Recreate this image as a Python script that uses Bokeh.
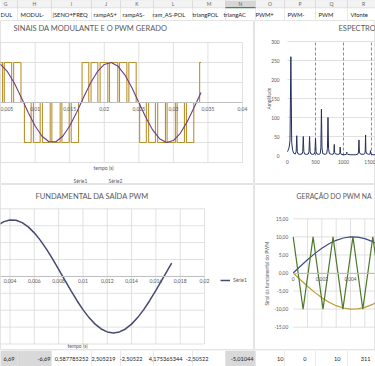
from bokeh.plotting import figure
from bokeh.layouts import column, row
from bokeh.models import (Label, FixedTicker, CustomJSTickFormatter, Range1d,
                          Legend, LegendItem)
from bokeh.embed import file_html
from bokeh.resources import INLINE
from bokeh.core.properties import value

# ---------------- data ----------------
col_letters = ["G", "H", "I", "J", "K", "L", "M", "N", "O", "P", "Q", "R"]
col_headers = ["DUL", "MODUL-", "|SENO+FREQ", "rampAS+", "rampAS-", "ram_AS-POL",
               "triangPOL", "triangAC", "PWM+", "PWM-", "PWM", "Vfonte"]
row_values = ["6,69", "-6,69", "0,587785252", "2,505219", "-2,50522", "4,175365344",
              "-2,50522", "-5,01044", "10", "0", "10", "311"]

# chart 1 : modulating sine and generated PWM
t_mod = [0.000, 0.001, 0.002, 0.003, 0.004, 0.005, 0.006, 0.007, 0.008, 0.009,
         0.010, 0.011, 0.012, 0.013, 0.014, 0.015, 0.016, 0.017, 0.018, 0.019,
         0.020, 0.021, 0.022, 0.023, 0.024, 0.025, 0.026, 0.027, 0.028, 0.029,
         0.030, 0.031, 0.032, 0.033, 0.034]
modulante = [0.000, 0.368, 0.685, 0.905, 0.998, 0.951, 0.771, 0.482, 0.125, -0.249,
             -0.588, -0.844, -0.982, -0.982, -0.844, -0.588, -0.249, 0.125, 0.482, 0.771,
             0.951, 0.998, 0.905, 0.685, 0.368, 0.000, -0.368, -0.685, -0.905, -0.998,
             -0.951, -0.771, -0.482, -0.125, 0.249]
t_pwm = [0.0, 0.00012, 0.00109, 0.00142, 0.00240, 0.00273, 0.00385, 0.00409, 0.00529, 0.00554,
         0.00660, 0.00689, 0.00795,
         0.00845, 0.00942, 0.00975, 0.01073, 0.01106, 0.01218, 0.01242, 0.01362, 0.01387,
         0.01493, 0.01522, 0.01628,
         0.01679, 0.01776, 0.01809, 0.01907, 0.01940, 0.02052, 0.02076, 0.02196, 0.02221,
         0.02327, 0.02356, 0.02462,
         0.02512, 0.02609, 0.02642, 0.02740, 0.02773, 0.02885, 0.02909, 0.03029, 0.03054,
         0.03160, 0.03189, 0.03295,
         0.03380, 0.03400]
pwm = [0, 1, 0, 1, 0, 1, 0, 1, 0, 1, 0, 1, 0,
       -1, 0, -1, 0, -1, 0, -1, 0, -1, 0, -1, 0,
       1, 0, 1, 0, 1, 0, 1, 0, 1, 0, 1, 0,
       -1, 0, -1, 0, -1, 0, -1, 0, -1, 0, -1, 0,
       1, 1]

# chart 2 : spectrum
freq = [0, 15, 30, 45, 60, 75, 90, 110, 140, 155, 165, 175, 190, 220, 260, 272, 282, 292, 305,
        340, 372, 384, 394, 404, 418, 450, 478, 490, 500, 510, 525, 560, 585, 596, 606, 616,
        630, 670, 700, 713, 723, 733, 748, 790, 820, 828, 835, 842, 855, 900, 928, 935, 941,
        947, 960, 1010, 1050, 1054, 1059, 1064, 1075, 1120, 1170, 1220, 1260, 1268, 1276,
        1284, 1300, 1350, 1382, 1388, 1394, 1400, 1412, 1450, 1474, 1478, 1482, 1486, 1495,
        1530, 1580]
amplitude = [10, 15, 22, 40, 260, 35, 15, 6, 4, 10, 52, 10, 4, 3, 4, 10, 50, 10, 4,
             3, 4, 10, 50, 10, 4, 3, 4, 10, 46, 10, 4, 3, 5, 20, 122, 20,
             5, 3, 5, 18, 100, 18, 5, 3, 4, 8, 29, 8, 4, 3, 4, 7, 22,
             7, 3, 2, 3, 5, 9, 5, 3, 2, 2, 2, 4, 9, 41,
             9, 4, 3, 5, 12, 54, 12, 5, 3, 4, 6, 13, 6, 3,
             2, 2]

# chart 3 : fundamental of the PWM output
t_fund = [0.0000, 0.0005, 0.0010, 0.0015, 0.0020, 0.0025, 0.0030, 0.0035, 0.0040, 0.0045,
          0.0050, 0.0055, 0.0060, 0.0065, 0.0070, 0.0075, 0.0080, 0.0085, 0.0090, 0.0095,
          0.0100, 0.0105, 0.0110, 0.0115, 0.0120, 0.0125, 0.0130, 0.0135, 0.0140, 0.0145,
          0.0150, 0.0155, 0.0160, 0.0165, 0.0170, 0.0173]
fundamental = [0.000, 1.254, 2.463, 3.585, 4.579, 5.412, 6.053, 6.480, 6.677, 6.637,
               6.363, 5.862, 5.155, 4.264, 3.223, 2.067, 0.838, -0.420, -1.664, -2.849,
               -3.932, -4.877, -5.648, -6.220, -6.572, -6.690, -6.572, -6.220, -5.648, -4.877,
               -3.932, -2.849, -1.664, -0.420, 0.838, 1.580]

# chart 4 : PWM generation (carrier and references)
t_carrier = [0.0, 0.00069, 0.00139, 0.00208, 0.00278, 0.00347, 0.00417, 0.00486, 0.00556, 0.00625]
carrier = [10, -10, 10, -10, 10, -10, 10, -10, 10, -10]
t_ref = [0.0000, 0.0005, 0.0010, 0.0015, 0.0020, 0.0025, 0.0030, 0.0035, 0.0040, 0.0045,
         0.0050, 0.0055, 0.0060, 0.0065]
ref_pos = [0.000, 1.874, 3.681, 5.358, 6.845, 8.090, 9.048, 9.686, 9.980, 9.921,
           9.511, 8.763, 7.705, 6.374]
ref_neg = [-0.000, -1.874, -3.681, -5.358, -6.845, -8.090, -9.048, -9.686, -9.980, -9.921,
           -9.511, -8.763, -7.705, -6.374]

x1_ticks = [0.005, 0.01, 0.015, 0.02, 0.025, 0.03, 0.035, 0.04]
y1_grid = [-1.5, -1.0, -0.5, 0.0, 0.5, 1.0, 1.5]
x2_ticks = [0, 500, 1000, 1500]
x2_dash = [500, 1000, 1500]
y2_ticks = [0, 50, 100, 150, 200, 250, 300]
x3_ticks = [0.004, 0.006, 0.008, 0.01, 0.012, 0.014, 0.016, 0.018, 0.02]
y3_grid = [-8, -6, -4, -2, 0, 2, 4, 6, 8]
x4_ticks = [0, 0.002, 0.004]
x4_grid = [0.001, 0.002, 0.003, 0.004, 0.005]
y4_ticks = [-15, -10, -5, 0, 5, 10, 15]

# ---------------- style ----------------
FONT = "Lato"
TXT = "#595959"
GRID = "#d9d9d9"
SHEET_LINE = "#e1e1e1"
C_PWM = "#b8922f"
C_SINE = "#6c3d86"
C_NAVY = "#25305e"
C_FUND = "#464a72"
C_GREEN = "#4c7a2a"
C_BLUE = "#3e4c88"
C_GOLD = "#bf9b30"
C_DASH = "#6f5fc8"

col_edges = [-7, 17, 51, 91, 120, 153, 192, 225, 255, 284, 315, 347, 379]
hdr_text_x = [0, 20, 52, 93, 122, 152, 192, 223, 255, 287, 318, 350]
ftr_text_right = [14, 50, 88, 115, 142, 182, 208, 253, 283, 306, 340, 370]


def comma_fmt():
    return CustomJSTickFormatter(code="return String(Math.round(tick*1000)/1000).replace('.', ',');")


def comma2_fmt():
    return CustomJSTickFormatter(code="return tick.toFixed(2).replace('.', ',');")


def make_chart(w, h, area, xlim, ylim, yaxis=None):
    """area = (left, right, top, bottom) of the plot area in canvas pixels."""
    l, r, t, b = area
    x0, x1 = xlim
    y0, y1 = ylim
    kx = (r - l) / (x1 - x0)
    ky = (b - t) / (y1 - y0)
    xr = Range1d(x0 - l / kx, x1 + (w - r) / kx)
    yr = Range1d(y0 - (h - b) / ky, y1 + t / ky)
    p = figure(width=w, height=h, x_range=xr, y_range=yr, output_backend="svg",
               toolbar_location=None, y_axis_location=yaxis, title_location=None,
               min_border_left=0, min_border_right=0, min_border_top=0, min_border_bottom=0)
    p.outline_line_color = "#e4e4e4"
    p.background_fill_color = "white"
    p.border_fill_color = "white"
    p.xgrid.visible = False
    p.ygrid.visible = False
    return p


def style_axis(ax, size="5px", standoff=2, line=None):
    ax.axis_line_color = line
    ax.major_tick_line_color = None
    ax.minor_tick_line_color = None
    ax.major_tick_out = 0
    ax.major_tick_in = 0
    ax.minor_tick_out = 0
    ax.minor_tick_in = 0
    ax.major_label_text_font = FONT
    ax.major_label_text_font_size = size
    ax.major_label_text_color = TXT
    ax.major_label_standoff = standoff


def add_label(p, x, y, text, size, align="left", angle=0, color=TXT, baseline="middle"):
    p.add_layout(Label(x=x, y=y, x_units="screen", y_units="screen", text=text,
                       text_font=FONT, text_font_size=size, text_color=color,
                       text_align=align, text_baseline=baseline, angle=angle))


def vgrid(p, ticks, lo, hi, color=GRID, dash="solid"):
    p.segment(x0=ticks, x1=ticks, y0=[lo] * len(ticks), y1=[hi] * len(ticks),
              line_color=color, line_width=0.8, line_dash=dash)


def hgrid(p, ticks, lo, hi, color=GRID):
    p.segment(x0=[lo] * len(ticks), x1=[hi] * len(ticks), y0=ticks, y1=ticks,
              line_color=color, line_width=0.8)


# ---------------- header (sheet) ----------------
hdr = make_chart(375, 20, (0, 375, 0, 20), (0, 375), (20, 0))
hdr.outline_line_color = None
hdr.axis.visible = False
hdr.y_range = Range1d(20, 0)
hdr.quad(left=col_edges[:-1], right=col_edges[1:], top=0, bottom=7.5,
         fill_color=["#f3f3f3"] * 7 + ["#d6d6d6"] + ["#f3f3f3"] * 4,
         line_color="#d0d0d0", line_width=0.6)
hdr.quad(left=col_edges[:-1], right=col_edges[1:], top=7.5, bottom=20,
         fill_color="white", line_color=SHEET_LINE, line_width=0.6)
hdr.segment(x0=col_edges[7], x1=col_edges[8], y0=7.2, y1=7.2, line_color="#107c41", line_width=1)
hdr.text(x=[(a + b) / 2 for a, b in zip(col_edges[:-1], col_edges[1:])], y=[3.6] * 12,
         text=col_letters, text_font=value(FONT), text_font_size="5px",
         text_color="#666666", text_align="center", text_baseline="middle")
hdr.text(x=hdr_text_x, y=[14] * 12, text=col_headers, text_font=value(FONT),
         text_font_size="5.8px", text_color="#222222", text_align="left",
         text_baseline="middle")

# ---------------- chart 1 ----------------
p1 = make_chart(254, 164, (0, 242, 22, 142), (0.00499, 0.04), (-1.5, 1.5))
vgrid(p1, x1_ticks, -1.5, 1.5)
hgrid(p1, y1_grid, 0.00499, 0.04)
p1.xaxis.fixed_location = 0
p1.xaxis.bounds = (0.00499, 0.04)
p1.xaxis.ticker = FixedTicker(ticks=x1_ticks)
p1.xaxis.formatter = comma_fmt()
style_axis(p1.xaxis[0], "5px", 4, "#bfbfbf")
p1.step(t_pwm, pwm, mode="after", line_color=C_PWM, line_width=1.1)
p1.line(t_mod, modulante, line_color=C_SINE, line_width=1.1)
add_label(p1, 13, 156, "SINAIS DA MODULANTE E O PWM GERADO", "7.5px")
add_label(p1, 103, 17, "tempo (s)", "5px", align="center")
add_label(p1, 73, 3.5, "Série1", "5px")
add_label(p1, 108, 3.5, "Série2", "5px")

# ---------------- chart 2 ----------------
p2 = make_chart(121, 164, (33, 117, 21, 135), (0, 1500), (0, 300), yaxis="left")
hgrid(p2, y2_ticks[1:], 0, p2.x_range.end)
vgrid(p2, x2_dash, 0, 300, color=C_DASH, dash="3 2")
p2.xaxis.fixed_location = 0
p2.xaxis.ticker = FixedTicker(ticks=x2_ticks)
p2.yaxis.fixed_location = 0
p2.yaxis.bounds = (0, 300)
p2.yaxis.ticker = FixedTicker(ticks=y2_ticks)
style_axis(p2.xaxis[0], "4.8px", 4)
style_axis(p2.yaxis[0], "4.8px", 8)
p2.line(freq, amplitude, line_color=C_NAVY, line_width=1)
add_label(p2, 84, 156, "ESPECTRO", "7.5px")
add_label(p2, 14.7, 86, "Amplitude", "4.8px", align="center", angle=1.5708)

# ---------------- chart 3 ----------------
p3 = make_chart(254, 166, (0, 204, 24.3, 159.5), (0.003218, 0.02), (-8, 8))
vgrid(p3, x3_ticks, -8, 8)
hgrid(p3, y3_grid, 0.003218, 0.02)
p3.xaxis.fixed_location = 0
p3.xaxis.bounds = (0.003218, 0.02)
p3.xaxis.ticker = FixedTicker(ticks=x3_ticks)
p3.xaxis.formatter = comma_fmt()
style_axis(p3.xaxis[0], "5px", 3, "#bfbfbf")
r3 = p3.line(t_fund, fundamental, line_color=C_FUND, line_width=1.5)
leg = Legend(items=[LegendItem(label="Série1", renderers=[r3])], location=(220, 66),
             background_fill_alpha=0, border_line_color=None, padding=0, margin=0,
             glyph_width=10, glyph_height=8, label_standoff=3, label_height=8,
             label_text_font=FONT, label_text_font_size="5px", label_text_color=TXT)
p3.add_layout(leg)
add_label(p3, 35, 154, "FUNDAMENTAL DA SAÍDA PWM", "7.5px")
add_label(p3, 77, 4.5, "tempo (s)", "5px", align="center")

# ---------------- chart 4 ----------------
p4 = make_chart(121, 166, (38.7, 96.0, 34.3, 142.7), (0, 0.004), (-15, 15), yaxis="left")
vgrid(p4, x4_grid, -15, 15)
hgrid(p4, y4_ticks, 0, p4.x_range.end)
p4.xaxis.fixed_location = 0
p4.xaxis.bounds = (0, p4.x_range.end)
p4.xaxis.ticker = FixedTicker(ticks=x4_ticks)
p4.xaxis.formatter = comma_fmt()
p4.yaxis.fixed_location = 0
p4.yaxis.bounds = (-15, 15)
p4.yaxis.ticker = FixedTicker(ticks=y4_ticks)
p4.yaxis.formatter = comma2_fmt()
style_axis(p4.xaxis[0], "4.8px", 4, "#bfbfbf")
style_axis(p4.yaxis[0], "4.8px", 5)
p4.line(t_ref, ref_pos, line_color=C_BLUE, line_width=1.2)
p4.line(t_ref, ref_neg, line_color=C_GOLD, line_width=1.2)
p4.line(t_carrier, carrier, line_color=C_GREEN, line_width=1.2)
add_label(p4, 42, 155, "GERAÇÃO DO PWM NA", "6.8px")
add_label(p4, 12.7, 77, "Sinal da fundamental do PWM", "4.8px", align="center", angle=1.5708)

# ---------------- footer (sheet row) ----------------
ftr = make_chart(375, 16, (0, 375, 0, 16), (0, 375), (16, 0))
ftr.outline_line_color = None
ftr.axis.visible = False
ftr.y_range = Range1d(16, 0)
ftr.quad(left=col_edges[:-1], right=col_edges[1:], top=0, bottom=16,
         fill_color=["#d9d9d9", "#d9d9d9"] + ["white"] * 5 + ["#d9d9d9"] + ["white"] * 4,
         line_color=SHEET_LINE, line_width=0.6)
ftr.text(x=ftr_text_right, y=[8.5] * 12, text=row_values,
         text_font=value(FONT), text_font_size="5.6px", text_color="#222222",
         text_align="right", text_baseline="middle")

layout = column(hdr, row(p1, p2), row(p3, p4), ftr)

with open("out.html", "w") as f:
    f.write(file_html(layout, INLINE))
